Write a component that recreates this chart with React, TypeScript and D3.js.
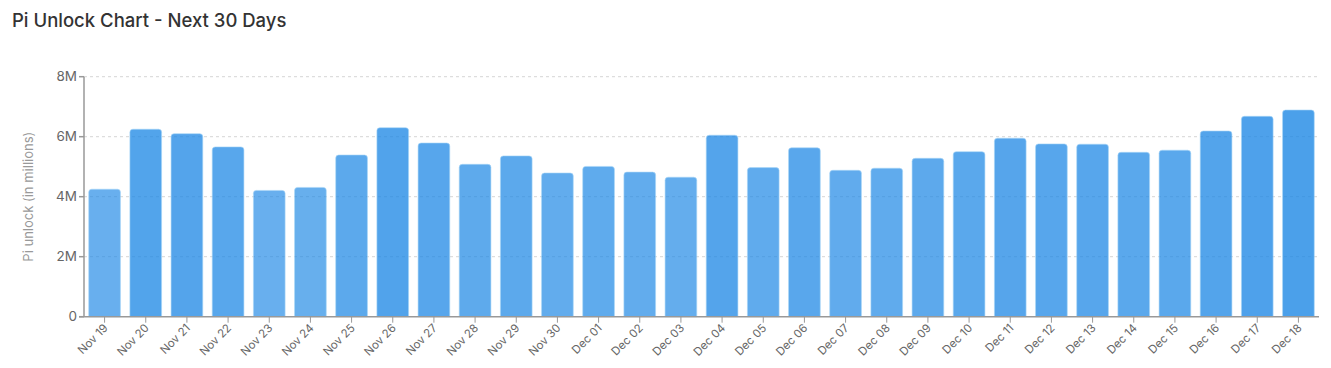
import React from "react";
import * as d3 from "d3";

const categories = ["Nov 19","Nov 20","Nov 21","Nov 22","Nov 23","Nov 24","Nov 25","Nov 26","Nov 27","Nov 28","Nov 29","Nov 30","Dec 01","Dec 02","Dec 03","Dec 04","Dec 05","Dec 06","Dec 07","Dec 08","Dec 09","Dec 10","Dec 11","Dec 12","Dec 13","Dec 14","Dec 15","Dec 16","Dec 17","Dec 18"];
const unlockMillions = [4.25,6.25,6.1,5.66,4.21,4.31,5.39,6.3,5.79,5.08,5.36,4.79,5.01,4.82,4.65,6.05,4.97,5.63,4.88,4.95,5.28,5.5,5.95,5.76,5.75,5.48,5.55,6.19,6.68,6.89];
const yTicks = [0, 2, 4, 6, 8];
const yTickLabels = ["0", "2M", "4M", "6M", "8M"];

const W = 1331, H = 368;
const left = 84, right = 1319, top = 76.7, bottom = 316.7;

export default function App() {
  const x = d3.scaleBand<string>().domain(categories).range([left, right]).paddingInner(0.23).paddingOuter(0.115);
  const y = d3.scaleLinear().domain([0, 8]).range([bottom, top]);
  const [vmin, vmax] = d3.extent(unlockMillions) as [number, number];
  const op = d3.scaleLinear().domain([vmin, vmax]).range([0.67, 0.8]);
  const font = "Inter, 'Noto Sans', Roboto, sans-serif";
  return (
    <svg width={W} height={H} style={{ position: "absolute", left: 0, top: 0, fontFamily: font }}>
      <text x={12} y={27} fontSize={18.5} fill="#333" fontWeight={500}>Pi Unlock Chart - Next 30 Days</text>
      {yTicks.map((t) => t > 0 && (
        <line key={"g" + t} x1={left} x2={right} y1={y(t)} y2={y(t)} stroke="#ddd" strokeWidth={1.2} strokeDasharray="3,3" />
      ))}
      {categories.map((c, i) => {
        const v = unlockMillions[i];
        const bx = x(c)!;
        const by = y(v);
        const bw = x.bandwidth();
        return (
          <g key={c}>
            <path
              d={`M${bx},${bottom} V${by + 3} Q${bx},${by} ${bx + 3},${by} H${bx + bw - 3} Q${bx + bw},${by} ${bx + bw},${by + 3} V${bottom} Z`}
              fill="#1e88e5"
              fillOpacity={op(v)}
              stroke="#a8d5f6"
              strokeOpacity={0.6}
              strokeWidth={1}
            />
          </g>
        );
      })}
      <line x1={left} x2={left} y1={top} y2={bottom} stroke="#999" strokeWidth={1.5} />
      {yTicks.map((t, i) => (
        <g key={"y" + t}>
          <line x1={left - 5} x2={left} y1={y(t)} y2={y(t)} stroke="#999" strokeWidth={1.5} />
          <text x={left - 7} y={y(t)} dy="0.35em" textAnchor="end" fontSize={13.5} fill="#666">{yTickLabels[i]}</text>
        </g>
      ))}
      <text transform={`translate(33,${(top + bottom) / 2}) rotate(-90)`} textAnchor="middle" fontSize={13} fill="#999">Pi unlock (in millions)</text>
      <line x1={left - 5} x2={right} y1={bottom} y2={bottom} stroke="#999" strokeWidth={1.5} />
      {categories.map((c) => {
        const cx = x(c)! + x.bandwidth() / 2;
        return (
          <g key={"x" + c}>
            <line x1={cx} x2={cx} y1={bottom} y2={bottom + 6} stroke="#999" strokeWidth={1} />
            <text transform={`translate(${cx + 4},${bottom + 12}) rotate(-45)`} textAnchor="end" fontSize={11.5} fill="#666">{c}</text>
          </g>
        );
      })}
    </svg>
  );
}
